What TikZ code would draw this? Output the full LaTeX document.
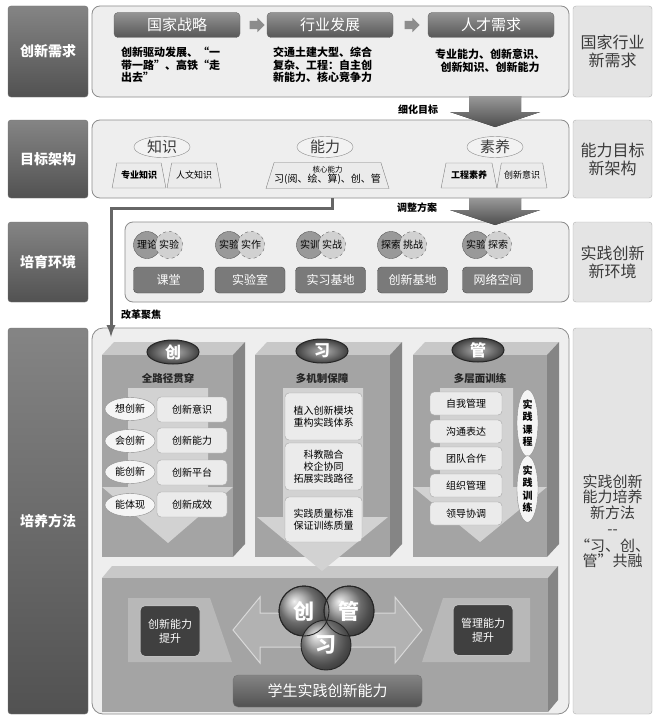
\documentclass[tikz,border=0pt]{standalone}
\usepackage{fontspec}
\setmainfont{Noto Sans CJK SC}
\usetikzlibrary{positioning,shapes.geometric,shapes.arrows}

\definecolor{panelgray}{HTML}{EEEEEE}
\definecolor{panelline}{HTML}{8C8C8C}
\definecolor{sidegray}{HTML}{E4E4E4}
\definecolor{inkgray}{HTML}{3A3A3A}
\definecolor{frontgray}{HTML}{A4A4A4}
\definecolor{topgray}{HTML}{C8C8C8}
\definecolor{sidedark}{HTML}{858585}
\definecolor{flowgray}{HTML}{D2D2D2}
\definecolor{itemgray}{HTML}{EBEBEB}

\begin{document}
\begin{tikzpicture}[x=1pt,y=-1pt,
  rowlabel/.style={draw=black!55, rounded corners=3pt, top color=black!48, bottom color=black!68, text=white, font=\bfseries\fontsize{14}{16}\selectfont, minimum width=80, inner sep=0},
  panel/.style={draw=panelline, fill=panelgray, rounded corners=8pt, line width=0.8pt, inner sep=0},
  sidebox/.style={draw=black!30, fill=sidegray, rounded corners=3pt, text=inkgray, font=\fontsize{16}{18}\selectfont, minimum width=79, align=center, inner sep=0},
  headbox/.style={draw=black!60, rounded corners=4pt, top color=black!42, bottom color=black!66, text=white, font=\fontsize{15}{17}\selectfont, minimum width=126, minimum height=25, inner sep=0},
  smallarrow/.style={single arrow, fill=black!45, minimum height=15, single arrow head extend=3, inner sep=4},
  desc/.style={font=\bfseries\fontsize{11}{12.5}\selectfont, inner sep=0},
  bigarrow/.style={top color=black!40, bottom color=black!70},
  cue/.style={font=\bfseries\fontsize{10}{12}\selectfont, inner sep=0},
  topic/.style={ellipse, draw=black!45, fill=black!5, text=inkgray, font=\fontsize{15}{17}\selectfont, minimum width=56, minimum height=21, inner sep=0},
  facet/.style={trapezium, trapezium stretches=true, trapezium left angle=66, trapezium right angle=66, draw=black!50, fill=black!8, font=\fontsize{9}{10}\selectfont, minimum height=25, inner sep=0, align=center},
  pairsolid/.style={circle, draw=black!65, fill=black!40, minimum size=27, inner sep=0, font=\fontsize{10}{11}\selectfont},
  pairdash/.style={circle, draw=black!60, dashed, fill=black!18, minimum size=27, inner sep=0, font=\fontsize{10}{11}\selectfont},
  sitebox/.style={draw=black!70, fill=black!52, rounded corners=4pt, text=white, font=\fontsize{12}{14}\selectfont, minimum width=70, minimum height=26, inner sep=0},
  focusline/.style={draw=black!60, line width=3pt, -latex},
  medal/.style={ellipse, draw=black!85, line width=1pt, shading=radial, inner color=black!30, outer color=black!75, text=white, font=\bfseries\fontsize{16}{18}\selectfont, minimum width=52, minimum height=24, inner sep=0},
  coltitle/.style={font=\bfseries\fontsize{10.5}{12}\selectfont, text=black!85},
  oval/.style={ellipse, draw=black!45, fill=black!4, font=\fontsize{10}{12}\selectfont, minimum width=50, minimum height=23, inner sep=0},
  item/.style={draw=black!35, fill=itemgray, rounded corners=4pt, font=\fontsize{10}{12}\selectfont, align=center, inner sep=0},
  ball/.style={circle, draw=black!85, line width=0.9pt, shading=ball, ball color=black!40, text=white, font=\bfseries\fontsize{21}{23}\selectfont, minimum size=50, inner sep=0},
  gainbox/.style={draw=black!25, line width=1pt, fill=black!75, rounded corners=5pt, text=white, font=\fontsize{11}{14}\selectfont, align=center, minimum width=60, minimum height=51, inner sep=0}]
% four rows: a dark label on the left, a light panel in the middle
% and a light box with the summary on the right; the panels hold
% the small boxes, the block arrows join one row to the next
\fill[white] (0,0) rectangle (654,717);
\useasboundingbox (0,0) rectangle (654,717);

% row 1
\node[rowlabel, minimum height=91] (need) at (48,51.5) {创新需求};
\node[panel, minimum width=477, minimum height=91] (needpanel) at (330.5,51.5) {};
\node[sidebox, minimum height=91] (needside) at (612.5,51.5) {国家行业\\新需求};
\node[headbox] (strategy) at (177,25) {国家战略};
\node[smallarrow] (step1) at (255,25) {};
\node[headbox] (industry) at (330,25) {行业发展};
\node[smallarrow] (step2) at (410,25) {};
\node[headbox] (talent) at (491,25) {人才需求};
\node[desc, anchor=north west, align=left] (strategytext) at (121,47) {创新驱动发展、“一\\带一路”、高铁“走\\出去”};
\node[desc, anchor=north west, align=left] (industrytext) at (273,47) {交通土建大型、综合\\复杂、工程：自主创\\新能力、核心竞争力};
\node[desc, align=center] (talenttext) at (490,61) {专业能力、创新意识、\\创新知识、创新能力};

% row 2
\node[rowlabel, minimum height=78] (goal) at (48,159) {目标架构};
\node[panel, minimum width=477, minimum height=78] (goalpanel) at (330.5,159) {};
\node[sidebox, minimum height=78] (goalside) at (612.5,159) {能力目标\\新架构};
\fill[bigarrow] (469,96) -- (521,96) -- (521,112) -- (540,112) -- (495,127) -- (450,112) -- (469,112) -- cycle;
\node[cue] (refine) at (418,110) {细化目标};
\node[topic] (know) at (162,147) {知识};
\node[topic] (abil) at (325,147) {能力};
\node[topic] (qual) at (495,147) {素养};
\node[facet, minimum width=54] (major) at (139,175.5) {\bfseries 专业知识};
\node[facet, minimum width=54] (human) at (194,175.5) {人文知识};
\node[facet, minimum width=121, minimum height=26] (core) at (327.5,175.5) {\fontsize{7.5}{8}\selectfont 核心能力\\\fontsize{10}{11}\selectfont 习(阅、绘、算)、创、管};
\node[facet, minimum width=56] (engin) at (469,175.5) {\bfseries 工程素养};
\node[facet, minimum width=50] (innov) at (522,175.5) {创新意识};

% row 3
\node[rowlabel, minimum height=80] (env) at (48,262) {培育环境};
\node[panel, minimum width=444, minimum height=80] (envpanel) at (347,262) {};
\node[sidebox, minimum height=80] (envside) at (612.5,262) {实践创新\\新环境};
\fill[bigarrow] (469,198) -- (521,198) -- (521,210) -- (540,210) -- (495,225) -- (450,210) -- (469,210) -- cycle;
\node[cue] (adjust) at (417,208) {调整方案};
\node[pairsolid] (theory) at (147,245) {理论};
\node[pairdash] (test1) at (169,245) {实验};
\node[pairsolid] (test2) at (229,245) {实验};
\node[pairdash] (make) at (251,245) {实作};
\node[pairsolid] (train) at (310,245) {实训};
\node[pairdash] (fight) at (332,245) {实战};
\node[pairsolid] (seek1) at (391,245) {探索};
\node[pairdash] (dare) at (413,245) {挑战};
\node[pairsolid] (test3) at (476,245) {实验};
\node[pairdash] (seek2) at (498,245) {探索};
\node[sitebox] (room) at (168.5,280) {课堂};
\node[sitebox] (lab) at (250,280) {实验室};
\node[sitebox] (base) at (330.5,280) {实习基地};
\node[sitebox] (hub) at (412.5,280) {创新基地};
\node[sitebox] (web) at (497.5,280) {网络空间};

% row 4
\node[rowlabel, minimum height=386] (method) at (48,521) {培养方法};
\node[panel, rounded corners=11pt, minimum width=477, minimum height=386] (methodpanel) at (330.5,521) {};
\node[sidebox, minimum height=386, font=\fontsize{15}{15.5}\selectfont] (methodside) at (612.5,521) {实践创新\\能力培养\\新方法\\[1pt]{-}{-}\\[1pt]“习、创、\\管”共融};
\coordinate (reformstart) at (332,198);
\coordinate (reformend) at (111,337);
\draw[focusline] (reformstart) -- ++(0,10) -| (reformend);
\node[cue] (reform) at (141,315) {改革聚焦};

% the three columns and the base, each a box seen from above
\fill[topgray] (102,355) -- (114,342) -- (245,342) -- (233,355) -- cycle;
\fill[sidedark] (233,355) -- (245,342) -- (245,544) -- (233,557) -- cycle;
\fill[frontgray] (102,355) rectangle (233,557);
\fill[topgray] (255,355) -- (267,342) -- (402,342) -- (390,355) -- cycle;
\fill[sidedark] (390,355) -- (402,342) -- (402,544) -- (390,557) -- cycle;
\fill[frontgray] (255,355) rectangle (390,557);
\fill[topgray] (413,355) -- (425,342) -- (559,342) -- (547,355) -- cycle;
\fill[sidedark] (547,355) -- (559,342) -- (559,544) -- (547,557) -- cycle;
\fill[frontgray] (413,355) rectangle (547,557);
\fill[topgray] (102,578) -- (112,566) -- (558,566) -- (548,578) -- cycle;
\fill[sidedark] (548,578) -- (558,566) -- (558,700) -- (548,712) -- cycle;
\fill[frontgray] (102,578) rectangle (548,712);
\fill[flowgray] (128,388) -- (208,388) -- (208,487) -- (233,487) -- (168,543) -- (102,487) -- (128,487) -- cycle;
\fill[flowgray] (283,388) -- (363,388) -- (363,517) -- (388,517) -- (322,571) -- (257,517) -- (283,517) -- cycle;
\fill[flowgray] (440,388) -- (513,388) -- (513,487) -- (547,487) -- (480,542) -- (413,487) -- (440,487) -- cycle;

% column 1
\node[medal] (chuang) at (173,352) {创};
\node[coltitle] (pathtitle) at (168,378) {全路径贯穿};
\node[oval] (think) at (130,409) {想创新};
\node[oval] (can) at (130,441) {会创新};
\node[oval] (able) at (130,472) {能创新};
\node[oval] (show) at (130,505) {能体现};
\node[item, minimum width=70, minimum height=25] (aware) at (192,409.5) {创新意识};
\node[item, minimum width=70, minimum height=25] (power) at (192,440.5) {创新能力};
\node[item, minimum width=70, minimum height=25] (platform) at (192,472.5) {创新平台};
\node[item, minimum width=70, minimum height=25] (effect) at (192,504.5) {创新成效};

% column 2
\node[medal] (xi) at (322,351) {习};
\node[coltitle] (mechtitle) at (322,378) {多机制保障};
\node[item, minimum width=77, minimum height=47] (module) at (323.5,416.5) {植入创新模块\\重构实践体系};
\node[item, minimum width=77, minimum height=47] (merge) at (323.5,466.5) {科教融合\\校企协同\\拓展实践路径};
\node[item, minimum width=77, minimum height=45] (standard) at (323.5,519.5) {实践质量标准\\保证训练质量};

% column 3
\node[medal] (guan) at (478,350) {管};
\node[coltitle] (layertitle) at (480,378) {多层面训练};
\node[item, minimum width=72, minimum height=23] (self) at (466,403.5) {自我管理};
\node[item, minimum width=72, minimum height=23] (talk) at (466,431.5) {沟通表达};
\node[item, minimum width=72, minimum height=23] (team) at (466,458.5) {团队合作};
\node[item, minimum width=72, minimum height=23] (organize) at (466,485.5) {组织管理};
\node[item, minimum width=72, minimum height=23] (lead) at (466,513.5) {领导协调};
\node[oval, minimum width=21, minimum height=60, align=center, font=\bfseries\fontsize{10}{12.5}\selectfont] (course) at (527.5,423) {实\\践\\课\\程};
\node[oval, minimum width=21, minimum height=62, align=center, font=\bfseries\fontsize{10}{12.5}\selectfont] (drill) at (527.5,489) {实\\践\\训\\练};

% base: the three skills meet
\fill[black!28] (128,598) -- (210,598) -- (232,662) -- (128,662) -- cycle;
\fill[black!28] (443,598) -- (530,598) -- (530,662) -- (422,662) -- cycle;
\node[gainbox] (innogain) at (170,631) {创新能力\\提升};
\node[gainbox] (mgmtgain) at (483,630) {管理能力\\提升};
\draw[black!15, fill=black!30, line width=1pt] (233,630) -- (260,597) -- (260,613) -- (395,613) -- (395,597) -- (422,630) -- (395,663) -- (395,647) -- (260,647) -- (260,663) -- cycle;
\node[ball] (ballchuang) at (304,611) {创};
\node[ball] (ballguan) at (349,611) {管};
\node[ball] (ballxi) at (326,645) {习};
\draw[black!85, line width=0.9pt] (ballchuang) circle (25) (ballguan) circle (25);
\node[rowlabel, font=\fontsize{15}{17}\selectfont, minimum width=189, minimum height=32, rounded corners=5pt] (student) at (327.5,691) {学生实践创新能力};
\end{tikzpicture}
\end{document}
